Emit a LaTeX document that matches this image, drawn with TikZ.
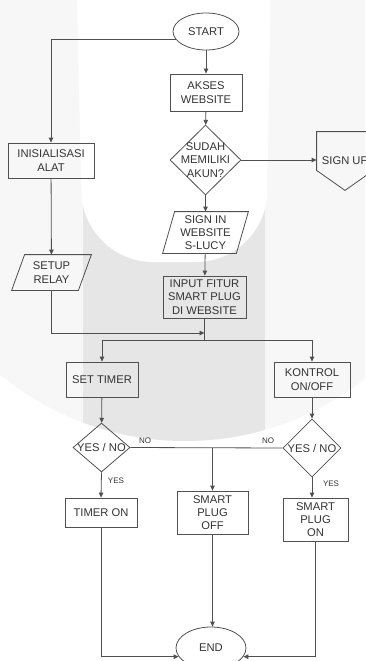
\documentclass[tikz,border=0pt]{standalone}
\usepackage{fontspec}
\setmainfont{Liberation Sans}
\usetikzlibrary{shapes.geometric,arrows.meta,calc}
\definecolor{lineC}{HTML}{505050}
\definecolor{textC}{HTML}{333333}
\definecolor{wmLight}{HTML}{F7F7F7}
\definecolor{wmGrey}{HTML}{E6E6E6}
\tikzset{
  base/.style={draw=lineC, line width=0.8pt, text=textC, inner sep=0pt, align=center,
    font=\fontsize{11.2}{13.3}\selectfont},
  boxnode/.style={base, rectangle},
  ovalnode/.style={base, ellipse},
  dianode/.style={base, diamond},
  plain/.style={base, draw=none},
  lbl/.style={text=textC, inner sep=0pt, font=\fontsize{8}{9}\selectfont},
  arr/.style={draw=lineC, line width=0.8pt, -{Triangle[length=5pt,width=4.5pt]}},
  ln/.style={draw=lineC, line width=0.8pt},
}
\begin{document}
\begin{tikzpicture}[x=1pt,y=-1pt]
\useasboundingbox (0,0) rectangle (365,661);
% watermark background
\begin{scope}
\clip (0,0) rectangle (365,661);
\fill[wmLight] (185,150) circle (291);
\begin{scope}
\clip (185,150) circle (291);
\fill[wmGrey] (83,150) rectangle (265,470);
\end{scope}
\fill[white, rounded corners=70] (75,-90) -- (83,262) -- (266,262) -- (272,-90) -- cycle;
\end{scope}

% nodes
\node[ovalnode, minimum width=66pt, minimum height=37pt] (start) at (206,31.5) {START};
\node[boxnode, minimum width=72pt, minimum height=37pt] (akses) at (206,92.5) {AKSES\\WEBSITE};
\node[dianode, minimum width=71pt, minimum height=70pt,
  label={[plain]center:SUDAH\\MEMILIKI\\AKUN?}] (q1) at (205.5,160) {};
\node[plain, minimum width=56pt, minimum height=58pt] (signup) at (345,161) {SIGN UP};
\draw[ln] (signup.north west) -- (signup.north east) -- ($(signup.south east)+(0,-20)$)
  -- (signup.south) -- ($(signup.south west)+(0,-20)$) -- cycle;
\node[boxnode, minimum width=86pt, minimum height=35pt] (init) at (51,160.5) {INISIALISASI\\ALAT};
\node[plain, minimum width=85pt, minimum height=41pt] (signin) at (205.5,232.5) {SIGN IN\\WEBSITE\\S-LUCY};
\draw[ln] ($(signin.north west)+(12,0)$) -- (signin.north east) -- ($(signin.south east)+(-12,0)$)
  -- (signin.south west) -- cycle;
\node[plain, minimum width=79pt, minimum height=35pt] (setup) at (51.5,272.5) {SETUP\\RELAY};
\draw[ln] ($(setup.north west)+(13,0)$) -- (setup.north east) -- ($(setup.south east)+(-13,0)$)
  -- (setup.south west) -- cycle;
\node[boxnode, minimum width=83pt, minimum height=42pt] (input) at (204.5,297) {INPUT FITUR\\SMART PLUG\\DI WEBSITE};
\node[boxnode, minimum width=72pt, minimum height=35pt] (settimer) at (102,379.5) {SET TIMER};
\node[boxnode, minimum width=76pt, minimum height=35pt] (kontrol) at (312,379.5) {KONTROL\\ON/OFF};
\node[dianode, minimum width=57pt, minimum height=49pt,
  label={[plain]center:YES / NO}] (q2) at (101.5,447.5) {};
\node[dianode, minimum width=58pt, minimum height=58pt,
  label={[plain]center:YES / NO}] (q3) at (312,448) {};
\node[boxnode, minimum width=72pt, minimum height=29pt] (timeron) at (101,512.5) {TIMER ON};
\node[boxnode, minimum width=71pt, minimum height=43pt] (plugoff) at (212.5,512.5) {SMART\\PLUG\\OFF};
\node[boxnode, minimum width=65pt, minimum height=43pt] (plugon) at (315.5,519.5) {SMART\\PLUG\\ON};
\node[ovalnode, minimum width=70pt, minimum height=42pt] (end) at (211,648) {END};

\coordinate (j1) at (204.5,333);
\coordinate (j2) at (204.5,340);
\coordinate (j3) at (212.5,448);

% connectors
\draw[arr] (start) -- (akses);
\draw[arr] (start.195) -| (init.north);
\draw[arr] (akses) -- (q1);
\draw[arr] (q1.east) -- (q1.east -| signup.west);
\draw[arr] (q1) -- (signin);
\draw[arr] (signin) -- (input);
\draw[arr] (init) -- (setup);
\draw[ln] (input.south) -- (j2);
\draw[arr] (setup.south) |- (j1);
\draw[arr] (j2) -| (settimer.north);
\draw[arr] (j2) -| (kontrol.north);
\draw[arr] (settimer) -- (q2);
\draw[arr] (kontrol) -- (q3);
\draw[ln] (q2.east) -- (q3.west);
\draw[arr] (j3) -- (plugoff.north);
\draw[arr] (q2.south) -- (timeron.north);
\draw[arr] (q3.south) -- (q3.south |- plugon.north);
\draw[arr] (timeron.south) |- (end.195);
\draw[arr] (plugoff.south) -- (plugoff.south |- end.north);
\draw[arr] (plugon.south) |- (end.-15);

% labels
\node[lbl] (no1) at (145,441) {NO};
\node[lbl] (no2) at (268,441) {NO};
\node[lbl] (yes1) at (116,481) {YES};
\node[lbl] (yes2) at (331,484) {YES};
\end{tikzpicture}
\end{document}
